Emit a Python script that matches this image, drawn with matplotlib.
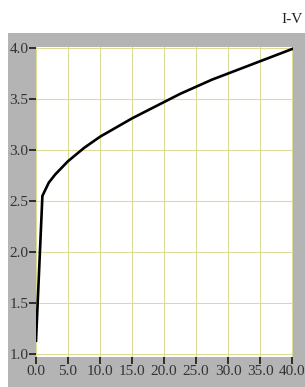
import matplotlib
matplotlib.use('Agg')
from matplotlib import pyplot as plt
from matplotlib.patches import Rectangle

# I-V curve
voltage = [0, 1, 2, 3, 5, 7.5, 10, 12.5, 15, 17.5, 20, 22.5, 25, 27.5, 30, 32.5, 35, 37.5, 40]
current = [1.13, 2.55, 2.68, 2.76, 2.89, 3.02, 3.13, 3.22, 3.31, 3.39, 3.47, 3.55, 3.62, 3.69, 3.75, 3.81, 3.87, 3.93, 3.99]

x_ticks = [0, 5, 10, 15, 20, 25, 30, 35, 40]
y_ticks = [1.0, 1.5, 2.0, 2.5, 3.0, 3.5, 4.0]
title = 'I-V'

plt.rcParams['font.family'] = ['Liberation Serif', 'DejaVu Serif']

fig = plt.figure(figsize=(3.05, 3.87), dpi=100, facecolor='white')
fig.patches.append(Rectangle((8/305, 0), 1, (387-33)/387, transform=fig.transFigure,
                             facecolor='#b4b4b4', edgecolor='none', zorder=-10))
fig.text(0.993, 0.950, title, ha='right', va='center', fontsize=11, color='#222222')

ax = fig.add_axes([36/305, 30/387, 257/305, 310/387])
ax.set_zorder(5)
ax.set_facecolor('white')
ax.plot(voltage, current, color='black', lw=1.9, zorder=3)
ax.set_xlim(0, 40.15)
ax.set_ylim(0.97, 4.01)
ax.set_xticks(x_ticks)
ax.set_yticks(y_ticks)
ax.set_xticklabels(['%.1f' % v for v in x_ticks])
ax.set_yticklabels(['%.1f' % v for v in y_ticks])
ax.grid(True, color='#dcdc96', lw=0.8)
for s in ax.spines.values():
	s.set_visible(False)
ax.tick_params(axis='both', direction='out', color='#222222', width=1.3,
               labelsize=11, labelcolor='#333333')
ax.tick_params(axis='x', length=5, pad=1)
ax.tick_params(axis='y', length=5, pad=0.5)

fig.savefig('out.png', dpi=100)
